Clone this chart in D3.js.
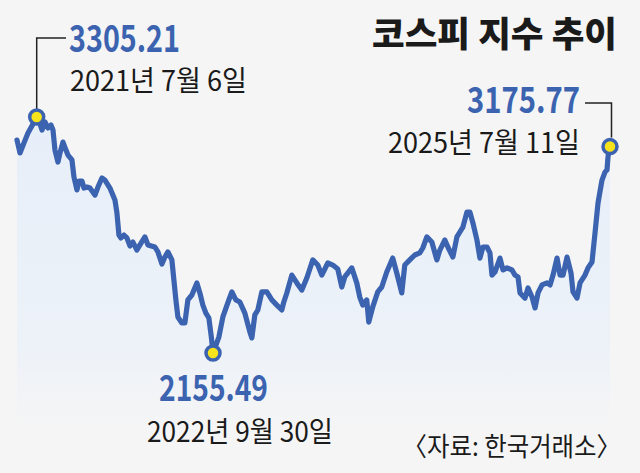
<!DOCTYPE html>
<html>
<head>
<meta charset="utf-8">
<script src="https://cdn.jsdelivr.net/npm/d3@7/dist/d3.min.js"></script>
<style>
  html, body { margin: 0; padding: 0; background: #f5f5f5; }
  svg { display: block; }
  text { font-family: "Noto Sans CJK KR", "Noto Sans", sans-serif; }
</style>
</head>
<body>
<svg id="chart" width="640" height="473"></svg>
<script>
// Decimal-year dates
const dates = [
  2021.372, 2021.393, 2021.421, 2021.449, 2021.484, 2021.510, 2021.533, 2021.547, 2021.568, 2021.589,
  2021.610, 2021.624, 2021.638, 2021.659, 2021.673, 2021.694, 2021.715, 2021.729, 2021.757, 2021.771,
  2021.792, 2021.806, 2021.827, 2021.841, 2021.862, 2021.883, 2021.918, 2021.939, 2021.967, 2021.988,
  2022.023, 2022.058, 2022.072, 2022.086, 2022.100, 2022.121, 2022.142, 2022.163, 2022.184, 2022.212,
  2022.233, 2022.268, 2022.289, 2022.338, 2022.359, 2022.387, 2022.408, 2022.429, 2022.457, 2022.471,
  2022.485, 2022.499, 2022.527, 2022.548, 2022.569, 2022.597, 2022.632, 2022.653, 2022.674, 2022.695,
  2022.716, 2022.734, 2022.745, 2022.786, 2022.814, 2022.856, 2022.877, 2022.905, 2022.933, 2022.968,
  2023.003, 2023.017, 2023.038, 2023.059, 2023.087, 2023.122, 2023.157, 2023.192, 2023.227, 2023.241,
  2023.262, 2023.297, 2023.332, 2023.367, 2023.402, 2023.444, 2023.479, 2023.507, 2023.549, 2023.584,
  2023.619, 2023.647, 2023.668, 2023.717, 2023.752, 2023.773, 2023.794, 2023.822, 2023.836, 2023.864,
  2023.899, 2023.927, 2023.962, 2024.004, 2024.032, 2024.067, 2024.088, 2024.123, 2024.158, 2024.193,
  2024.214, 2024.242, 2024.277, 2024.312, 2024.333, 2024.368, 2024.389, 2024.424, 2024.452, 2024.473,
  2024.494, 2024.522, 2024.543, 2024.564, 2024.592, 2024.613, 2024.634, 2024.662, 2024.683, 2024.697,
  2024.718, 2024.753, 2024.774, 2024.802, 2024.837, 2024.858, 2024.879, 2024.893, 2024.928, 2024.949,
  2024.977, 2024.998, 2025.019, 2025.047, 2025.082, 2025.103, 2025.124, 2025.152, 2025.173, 2025.194,
  2025.222, 2025.250, 2025.264, 2025.292, 2025.313, 2025.348, 2025.369, 2025.397, 2025.418, 2025.439,
  2025.467, 2025.488, 2025.502, 2025.509, 2025.523
];
const kospi = [
  3193, 3130, 3179, 3227, 3271, 3305.21, 3271, 3242, 3281, 3252,
  3266, 3242, 3144, 3086, 3130, 3183, 3144, 3120, 3096, 3013,
  2950, 2993, 2993, 2959, 2964, 2959, 2925, 2964, 3008, 2998,
  2959, 2901, 2838, 2730, 2716, 2730, 2716, 2677, 2696, 2657,
  2682, 2721, 2682, 2672, 2648, 2589, 2623, 2648, 2609, 2511,
  2414, 2331, 2302, 2302, 2414, 2438, 2497, 2448, 2389, 2350,
  2326, 2229, 2155.49, 2233, 2331, 2414, 2453, 2414, 2404, 2350,
  2258, 2229, 2341, 2365, 2453, 2453, 2414, 2389, 2365, 2404,
  2448, 2535, 2497, 2462, 2521, 2609, 2584, 2535, 2594, 2584,
  2565, 2477, 2526, 2570, 2497, 2428, 2389, 2414, 2306, 2380,
  2453, 2477, 2550, 2618, 2545, 2448, 2584, 2609, 2633, 2643,
  2667, 2721, 2696, 2609, 2657, 2706, 2672, 2623, 2721, 2745,
  2769, 2842, 2842, 2789, 2706, 2618, 2672, 2672, 2643, 2535,
  2550, 2618, 2560, 2570, 2560, 2535, 2526, 2448, 2423, 2472,
  2428, 2375, 2448, 2487, 2497, 2487, 2535, 2618, 2535, 2535,
  2623, 2545, 2453, 2423, 2497, 2535, 2570, 2599, 2740, 2886,
  2998, 3037, 3047, 3110, 3175.77
];
const title = "코스피 지수 추이";
const source = "〈자료: 한국거래소〉";
const highLabel = ["3305.21", "2021년 7월 6일"];
const lowLabel = ["2155.49", "2022년 9월 30일"];
const lastLabel = ["3175.77", "2025년 7월 11일"];
const highIdx = 5, lowIdx = 62, lastIdx = kospi.length - 1;

function decYearToDate(t) {
  const y = Math.floor(t);
  const s = Date.UTC(y, 0, 1), e = Date.UTC(y + 1, 0, 1);
  return new Date(s + (t - y) * (e - s));
}
const data = dates.map((d, i) => ({ date: decYearToDate(d), value: kospi[i] }));

const blue = "#3b63b0";
const svg = d3.select("#chart");
svg.append("rect").attr("width", 640).attr("height", 473).attr("fill", "#f5f5f5");

const x = d3.scaleUtc()
  .domain([decYearToDate(2021.510), decYearToDate(2025.523)])
  .range([36.7, 610]);
const y = d3.scaleLinear()
  .domain([2155.49, 3305.21])
  .range([353, 117]);

const defs = svg.append("defs");
const grad = defs.append("linearGradient").attr("id", "areaGrad")
  .attr("gradientUnits", "userSpaceOnUse")
  .attr("x1", 0).attr("y1", 110).attr("x2", 0).attr("y2", 430);
grad.append("stop").attr("offset", 0).attr("stop-color", "#e6eef9");
grad.append("stop").attr("offset", 0.75).attr("stop-color", "#edf2f8");
grad.append("stop").attr("offset", 1).attr("stop-color", "#f5f5f5");

const area = d3.area()
  .x(d => x(d.date))
  .y0(430)
  .y1(d => y(d.value));
svg.append("path").datum(data)
  .attr("d", area)
  .attr("fill", "url(#areaGrad)");

const line = d3.line().x(d => x(d.date)).y(d => y(d.value));
svg.append("path").datum(data)
  .attr("d", line)
  .attr("fill", "none")
  .attr("stroke", blue)
  .attr("stroke-width", 5.2)
  .attr("stroke-linejoin", "round")
  .attr("stroke-linecap", "round");

// leader lines
const hp = data[highIdx], lp = data[lastIdx], mp = data[lowIdx];
svg.append("path")
  .attr("d", `M${x(hp.date)},${y(hp.value) - 8} V38 H66`)
  .attr("fill", "none").attr("stroke", "#222").attr("stroke-width", 1.5);
svg.append("path")
  .attr("d", `M585,103 H${x(lp.date) + 1.5} V${y(lp.value) - 6}`)
  .attr("fill", "none").attr("stroke", "#222").attr("stroke-width", 1.5);

// dots
[hp, mp, lp].forEach(d => {
  svg.append("circle")
    .attr("cx", x(d.date)).attr("cy", y(d.value) + (d === lp ? 3 : 0))
    .attr("r", 7)
    .attr("fill", "#f7e31c")
    .attr("stroke", blue)
    .attr("stroke-width", 3.5);
});

function label(txt, px, py, size, color, weight, width, anchor) {
  const t = svg.append("text")
    .attr("x", px).attr("y", py)
    .attr("font-size", size)
    .attr("fill", color)
    .attr("font-weight", weight)
    .attr("text-anchor", anchor || "start")
    .text(txt);
  if (width) t.attr("textLength", width).attr("lengthAdjust", "spacingAndGlyphs");
  return t;
}

label(title, 617, 47, 35, "#1a1a1a", 800, 245, "end");
label(highLabel[0], 69, 52, 37, blue, 700, 111);
label(highLabel[1], 70, 91, 28, "#1a1a1a", 400, 177);
label(lastLabel[0], 580, 113, 36, blue, 700, 113, "end");
label(lastLabel[1], 580, 153, 28, "#1a1a1a", 400, 192, "end");
label(lowLabel[0], 159, 401, 36, blue, 700, 109);
label(lowLabel[1], 147, 442, 28, "#1a1a1a", 400, 186);

// source: condensed through a horizontal scale
svg.append("text")
  .attr("transform", "translate(621,456) scale(0.94,1)")
  .attr("font-size", 26)
  .attr("fill", "#1a1a1a")
  .attr("text-anchor", "end")
  .text(source);
</script>
</body>
</html>
